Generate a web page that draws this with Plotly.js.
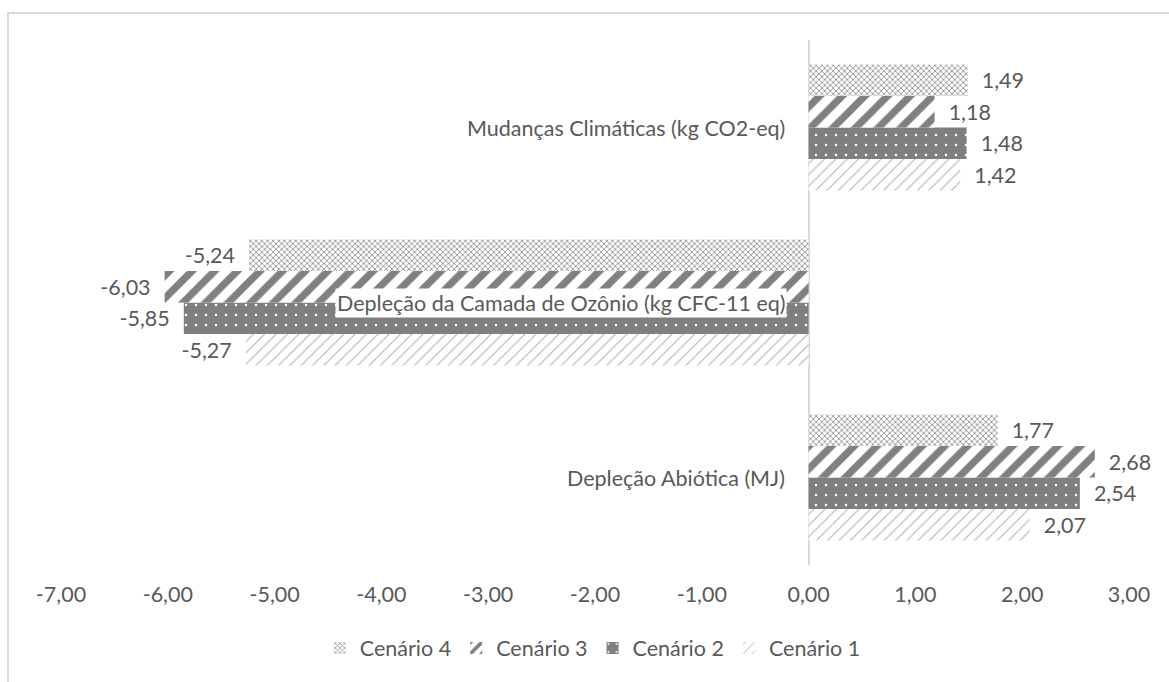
<!DOCTYPE html>
<html>
<head>
<meta charset="utf-8">
<script src="https://cdn.plot.ly/plotly-3.0.1.min.js"></script>
<style>
  html, body { margin: 0; padding: 0; background: #ffffff; }
  #frame { position: absolute; left: 7px; top: 12px; width: 1300px; height: 800px;
           border-left: 2px solid #d9d9d9; border-top: 2px solid #d9d9d9; }
  #chart { position: absolute; left: 0; top: 0; width: 1169px; height: 682px; }
</style>
</head>
<body>
<div id="frame"></div>
<div id="chart"></div>
<script>
// Categories (bottom to top as drawn by Plotly)
const categories = [
  'Depleção Abiótica (MJ)',
  'Depleção da Camada de Ozônio (kg CFC-11 eq)',
  'Mudanças Climáticas (kg CO2-eq)'
];
// Series values, same order as categories
const cenario1 = [2.07, -5.27, 1.42];
const cenario2 = [2.54, -5.85, 1.48];
const cenario3 = [2.68, -6.03, 1.18];
const cenario4 = [1.77, -5.24, 1.49];
const seriesNames = ['Cenário 1', 'Cenário 2', 'Cenário 3', 'Cenário 4'];
// Axis ticks
const tickValues = [-7, -6, -5, -4, -3, -2, -1, 0, 1, 2, 3];
const tickLabels = ['-7,00', '-6,00', '-5,00', '-4,00', '-3,00', '-2,00', '-1,00', '0,00', '1,00', '2,00', '3,00'];

const txtColor = '#595959';
const fontFam = 'Lato, "Open Sans", sans-serif';
const FS = 21.5;
const NB = '\u00a0\u00a0';

function labelTemplates(vals) {
  return vals.map(v => v < 0 ? '%{x:.2f}' + NB : NB + '%{x:.2f}');
}

const patterns = [
  { shape: '/', bgcolor: '#ffffff', fgcolor: '#b3b3b3', size: 8, solidity: 0.14 },
  { shape: '.', bgcolor: '#7f7f7f', fgcolor: '#ffffff', size: 10, solidity: 0.05 },
  { shape: '/', bgcolor: '#ffffff', fgcolor: '#808080', size: 16, solidity: 0.45 },
  { shape: 'x', bgcolor: '#ffffff', fgcolor: '#8c8c8c', size: 4, solidity: 0.38 }
];

const allVals = [cenario1, cenario2, cenario3, cenario4];
const traces = allVals.map((vals, i) => ({
  type: 'bar',
  orientation: 'h',
  name: seriesNames[i],
  y: categories,
  x: vals,
  marker: {
    color: patterns[i].bgcolor,
    line: { width: 0 },
    pattern: Object.assign({ fillmode: 'replace' }, patterns[i])
  },
  texttemplate: labelTemplates(vals),
  textposition: 'outside',
  textfont: { family: fontFam, size: FS, color: txtColor },
  cliponaxis: false,
  hoverinfo: 'x+name'
}));

const annotations = categories.map(c => ({
  x: 0, xref: 'x', y: c, yref: 'y',
  text: c, showarrow: false,
  xanchor: 'right', yanchor: 'middle', xshift: -22,
  bgcolor: '#ffffff', borderpad: 1,
  font: { family: fontFam, size: FS, color: txtColor }
}));

const layout = {
  width: 1169, height: 682,
  margin: { l: 61, r: 40, t: 40, b: 117 },
  paper_bgcolor: 'rgba(0,0,0,0)',
  plot_bgcolor: 'rgba(0,0,0,0)',
  separators: ',.',
  barmode: 'group',
  bargap: 0.28,
  bargroupgap: 0,
  showlegend: true,
  legend: {
    orientation: 'h', x: 0.498, xanchor: 'center', y: -0.158, yanchor: 'middle',
    traceorder: 'reversed', itemwidth: 30,
    font: { family: fontFam, size: FS, color: txtColor }
  },
  xaxis: {
    range: [-7, 3], showgrid: false, showline: false,
    zeroline: true, zerolinecolor: '#d9d9d9', zerolinewidth: 2,
    tickmode: 'array', tickvals: tickValues, ticktext: tickLabels,
    ticks: '', ticklabelstandoff: 14,
    tickfont: { family: fontFam, size: FS, color: txtColor },
    fixedrange: true
  },
  yaxis: {
    showticklabels: false, showgrid: false, zeroline: false, showline: false,
    ticks: '', fixedrange: true
  },
  annotations: annotations,
  font: { family: fontFam, color: txtColor }
};

Plotly.newPlot('chart', traces, layout, { displayModeBar: false, staticPlot: true });
</script>
</body>
</html>
